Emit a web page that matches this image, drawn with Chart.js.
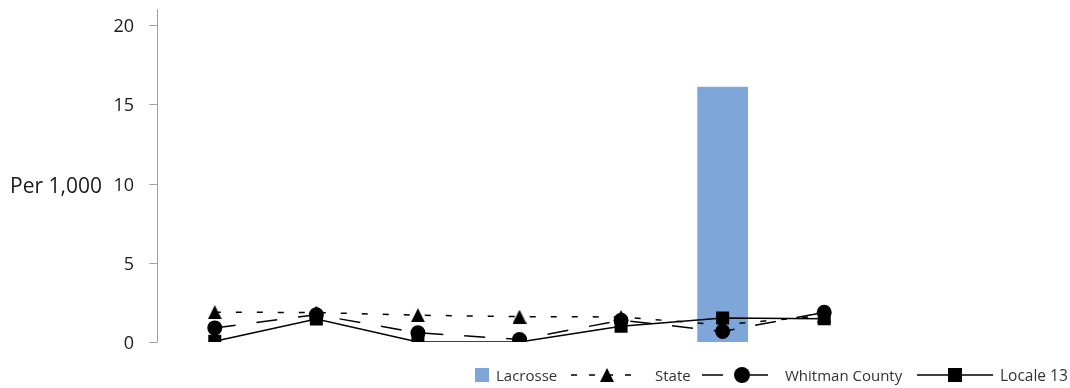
<!DOCTYPE html>
<html>
<head>
<meta charset="utf-8">
<script src="https://cdn.jsdelivr.net/npm/chart.js@4.4.0/dist/chart.umd.min.js"></script>
<style>
  html, body { margin: 0; padding: 0; background: #fff; }
  #wrap { width: 1070px; height: 388px; }
</style>
</head>
<body>
<div id="wrap"><canvas id="myChart" width="1070" height="388"></canvas></div>
<script>
// data
const categories = ['1', '2', '3', '4', '5', '6', '7'];
const lacrosse = [0, 0, 0, 0, 0, 16.1, 0];
const state = [1.88, 1.86, 1.69, 1.6, 1.58, 1.08, 1.67];
const whitman = [0.89, 1.72, 0.58, 0.16, 1.37, 0.67, 1.87];
const locale13 = [0.05, 1.45, 0, 0, 1.0, 1.52, 1.47];
const yTicks = [0, 5, 10, 15, 20];
const seriesNames = ['Lacrosse', 'State', 'Whitman County', 'Locale 13'];
const yTitle = 'Per 1,000';

const barColor = '#7ea6d8';
const fontFam = '"Open Sans", sans-serif';
Chart.defaults.font.family = fontFam;

function triangleImg(w, h) {
    const c = document.createElement('canvas');
    c.width = w; c.height = h;
    const g = c.getContext('2d');
    g.fillStyle = '#000';
    g.beginPath();
    g.moveTo(w / 2, 0);
    g.lineTo(w, h);
    g.lineTo(0, h);
    g.closePath();
    g.fill();
    return c;
}
const tri = triangleImg(14, 14);

// y axis line, ticks, title and legend drawn by hand
const extras = {
    id: 'extras',
    afterDraw(chart) {
        const ctx = chart.ctx;
        const area = chart.chartArea;
        const ys = chart.scales.y;
        const ax = area.left - 6.5;
        ctx.save();
        ctx.strokeStyle = '#a0a0a0';
        ctx.lineWidth = 1;
        ctx.beginPath();
        ctx.moveTo(ax, area.top);
        ctx.lineTo(ax, area.bottom);
        yTicks.forEach(v => {
            const p = Math.round(ys.getPixelForValue(v)) + 0.5;
            ctx.moveTo(ax - 8, p);
            ctx.lineTo(ax, p);
        });
        ctx.stroke();

        ctx.fillStyle = '#1a1a1a';
        ctx.font = '21px ' + fontFam;
        ctx.textBaseline = 'alphabetic';
        ctx.fillText(yTitle, 10, 193);

        // legend
        const ly = 375;
        ctx.font = '15px ' + fontFam;
        ctx.fillStyle = barColor;
        ctx.fillRect(475, ly - 7, 14, 14);
        ctx.fillStyle = '#333';
        ctx.fillText(seriesNames[0], 496, 381);

        ctx.strokeStyle = '#000';
        ctx.lineWidth = 1.5;
        ctx.setLineDash([6, 12]);
        ctx.beginPath();
        ctx.moveTo(571, ly); ctx.lineTo(641, ly);
        ctx.stroke();
        ctx.setLineDash([]);
        ctx.drawImage(tri, 607 - 7, ly - 7);
        ctx.fillText(seriesNames[1], 655, 381);

        ctx.beginPath();
        ctx.moveTo(702, ly); ctx.lineTo(723, ly);
        ctx.moveTo(750, ly); ctx.lineTo(768, ly);
        ctx.stroke();
        ctx.fillStyle = '#000';
        ctx.beginPath();
        ctx.arc(742, ly, 8, 0, Math.PI * 2);
        ctx.fill();
        ctx.fillStyle = '#333';
        ctx.fillText(seriesNames[2], 785, 381);

        ctx.beginPath();
        ctx.moveTo(917, ly); ctx.lineTo(993, ly);
        ctx.stroke();
        ctx.fillStyle = '#000';
        ctx.fillRect(955 - 7, ly - 7, 14, 14);
        ctx.fillStyle = '#333';
        ctx.font = '15.5px ' + fontFam;
        ctx.fillText(seriesNames[3], 1000, 381);
        ctx.restore();
    }
};

const ctx_ = document.getElementById('myChart').getContext('2d');
const myChart = new Chart(ctx_, {
    data: {
        labels: categories,
        datasets: [{
            type: 'line',
            label: seriesNames[3],
            data: locale13,
            order: 1,
            borderColor: '#000',
            borderWidth: 1.5,
            pointStyle: 'rect',
            pointRadius: 9.2,
            pointBackgroundColor: '#000',
            pointBorderColor: '#000',
            pointBorderWidth: 0,
            tension: 0
        }, {
            type: 'line',
            label: seriesNames[2],
            data: whitman,
            order: 2,
            borderColor: '#000',
            borderWidth: 1.5,
            borderDash: [21, 21],
            pointStyle: 'circle',
            pointRadius: 7.5,
            pointBackgroundColor: '#000',
            pointBorderColor: '#000',
            pointBorderWidth: 0,
            tension: 0
        }, {
            type: 'line',
            label: seriesNames[1],
            data: state,
            order: 3,
            borderColor: '#000',
            borderWidth: 1.5,
            borderDash: [6, 15],
            pointStyle: tri,
            pointRadius: 7,
            pointBackgroundColor: '#000',
            tension: 0
        }, {
            type: 'bar',
            label: seriesNames[0],
            data: lacrosse,
            order: 4,
            backgroundColor: barColor,
            barPercentage: 0.5,
            categoryPercentage: 1.0
        }]
    },
    options: {
        responsive: false,
        animation: false,
        layout: { padding: { left: 0, right: 195, top: 7, bottom: 46 } },
        plugins: {
            legend: { display: false },
            tooltip: { enabled: false }
        },
        scales: {
            x: { display: false },
            y: {
                min: 0,
                max: 21,
                grid: { display: false },
                border: { display: false },
                ticks: {
                    color: '#1a1a1a',
                    font: { size: 18 },
                    padding: 22,
                    labelOffset: 2
                },
                afterBuildTicks: (scale) => {
                    scale.ticks = yTicks.map(v => ({ value: v }));
                },
                afterFit: (scale) => {
                    scale.width = 164;
                    scale.paddingTop = 0;
                    scale.paddingBottom = 0;
                }
            }
        }
    },
    plugins: [extras]
});
</script>
</body>
</html>
